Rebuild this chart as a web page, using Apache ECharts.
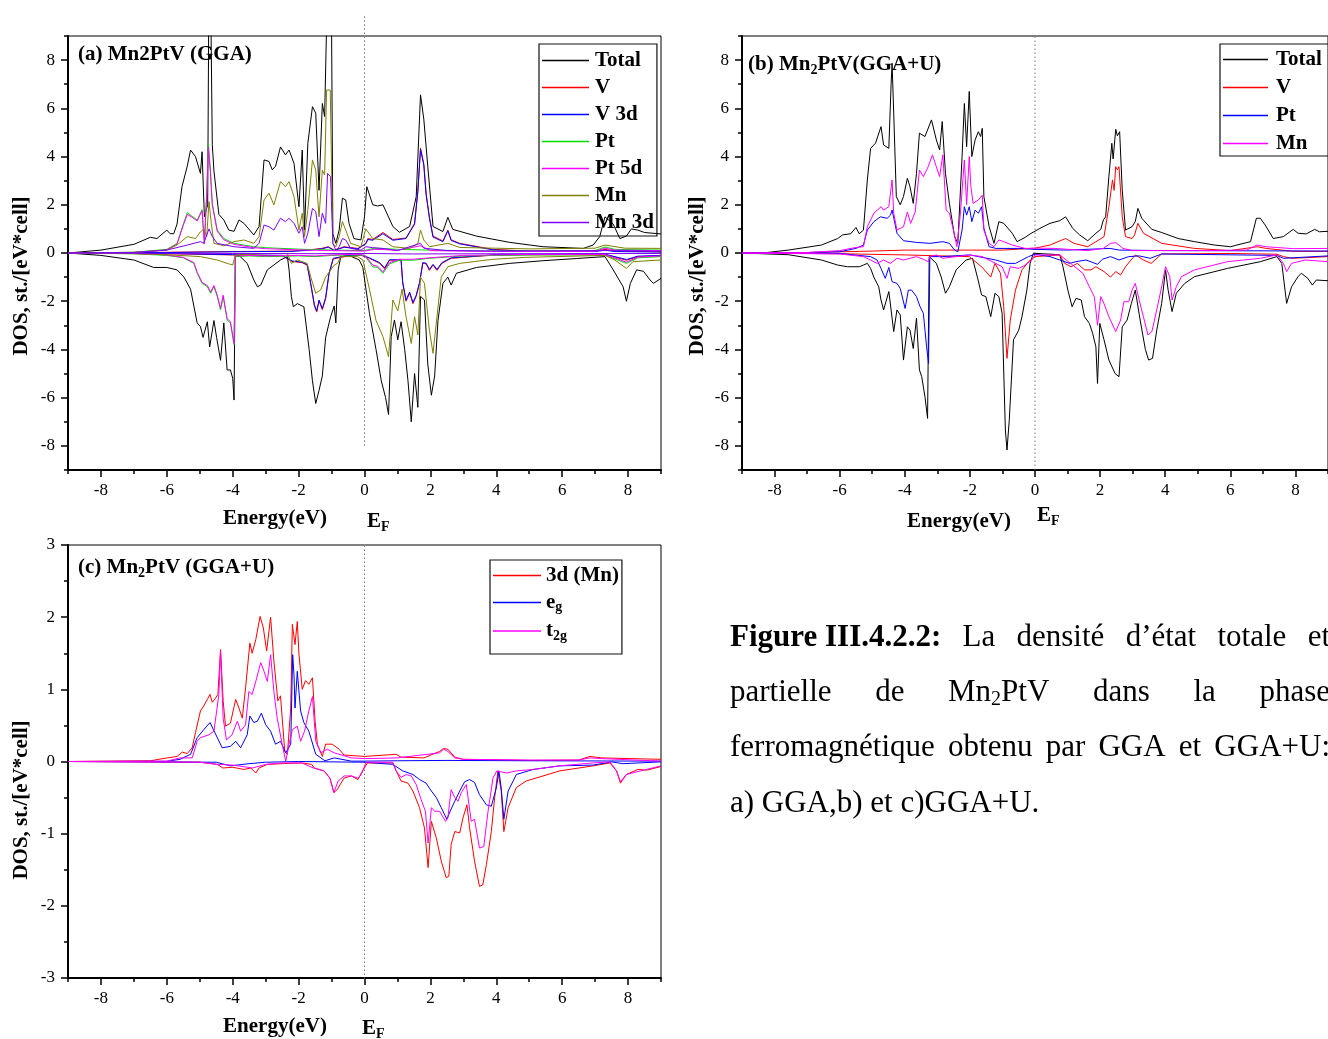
<!DOCTYPE html>
<html><head><meta charset="utf-8">
<script src="https://cdn.jsdelivr.net/npm/echarts@6/dist/echarts.min.js"></script>
<style>html,body{margin:0;padding:0;background:#fff}#c{width:1328px;height:1039px}</style>
</head><body><div id="c"></div><script>
// ---------------- DATA (energy in eV, DOS in st./[eV*cell]) ----------------
const xTickLabels = [-8,-6,-4,-2,0,2,4,6,8];
const yTickLabelsAB = [-8,-6,-4,-2,0,2,4,6,8];
const legendA = ['Total','V','V 3d','Pt','Pt 5d','Mn','Mn 3d'];
const legendB = ['Total ','V ','Pt ','Mn '];
const legendC = ['3d (Mn)','e_g','t_2g'];
const EF = [[0,-9],[0,9]];
const EFa = [[0,-8],[0,9.9]];

// Panel (a) GGA
const aTotalUp = [[-9,0],[-8,0.12],[-7,0.36],[-6.5,0.65],[-6.3,0.6],[-6.0,0.95],[-5.9,0.8],[-5.79,0.8],[-5.69,1.2],[-5.54,2.75],[-5.38,3.6],[-5.28,4.27],[-5.13,4.0],[-4.98,3.3],[-4.93,4.2],[-4.86,1.5],[-4.76,2.0],[-4.73,9.5],[-4.66,9.5],[-4.62,4.5],[-4.57,3.4],[-4.42,1.6],[-4.27,1.37],[-4.12,0.95],[-3.96,0.9],[-3.81,1.37],[-3.66,1.23],[-3.36,0.75],[-3.2,1.1],[-3.05,3.86],[-2.9,3.8],[-2.8,3.45],[-2.7,3.6],[-2.55,4.4],[-2.4,4.07],[-2.29,4.27],[-2.14,3.72],[-1.99,1.92],[-1.89,4.27],[-1.82,0.95],[-1.72,4.55],[-1.58,6.07],[-1.48,5.8],[-1.38,2.6],[-1.28,6.2],[-1.21,5.66],[-1.15,9.5],[-1.0,9.5],[-0.96,0.8],[-0.87,0.4],[-0.77,0.95],[-0.67,2.27],[-0.57,2.2],[-0.47,1.23],[-0.32,0.6],[-0.11,0.54],[0.0,1.5],[0.07,2.75],[0.25,2.0],[0.4,1.95],[0.56,2.0],[0.86,1.1],[1.06,0.86],[1.37,1.1],[1.57,2.34],[1.7,6.56],[1.8,5.55],[1.92,3.6],[2.08,1.1],[2.38,0.89],[2.53,1.48],[2.68,0.98],[3.4,0.7],[4.41,0.44],[5.42,0.26],[6.64,0.19],[6.94,0.33],[7.14,0.68],[7.3,1.5],[7.55,1.2],[7.75,0.6],[7.95,0.7],[8.1,1.0],[8.3,0.95],[8.5,0.85],[9,0.79]];
const aTotalDn = [[-9,0],[-8,-0.1],[-7,-0.29],[-6.4,-0.6],[-6.0,-0.6],[-5.69,-0.7],[-5.48,-1.0],[-5.28,-1.5],[-5.18,-2.2],[-5.08,-2.9],[-4.98,-3.05],[-4.9,-3.5],[-4.77,-2.85],[-4.7,-3.9],[-4.57,-2.8],[-4.49,-3.5],[-4.37,-4.45],[-4.27,-2.9],[-4.17,-4.85],[-4.07,-4.85],[-4.0,-5.2],[-3.96,-6.1],[-3.92,-0.15],[-3.81,-0.1],[-3.56,-0.43],[-3.36,-1.12],[-3.25,-1.4],[-3.15,-1.33],[-2.95,-0.7],[-2.55,-0.29],[-2.34,-0.15],[-2.29,-0.7],[-2.22,-1.8],[-2.16,-2.23],[-2.04,-2.1],[-1.84,-2.23],[-1.68,-4.0],[-1.58,-5.3],[-1.48,-6.24],[-1.38,-5.7],[-1.28,-5.1],[-1.18,-3.5],[-1.03,-2.65],[-0.92,-2.2],[-0.87,-2.9],[-0.8,-0.7],[-0.72,-0.15],[-0.47,-0.1],[-0.16,-0.29],[-0.05,-0.6],[0.15,-2.5],[0.35,-4.0],[0.51,-5.3],[0.64,-6.0],[0.73,-6.7],[0.81,-3.47],[0.91,-2.78],[1.01,-3.6],[1.11,-2.85],[1.22,-4.0],[1.32,-5.3],[1.42,-7.0],[1.52,-5.0],[1.62,-6.4],[1.7,-1.8],[1.82,-1.95],[1.92,-4.6],[2.03,-5.9],[2.13,-5.1],[2.23,-2.8],[2.38,-1.26],[2.53,-1.0],[2.63,-1.33],[2.79,-0.84],[3.4,-0.6],[4.41,-0.43],[5.42,-0.32],[6.43,-0.23],[7.3,-0.15],[7.55,-0.7],[7.85,-1.4],[7.95,-2.0],[8.07,-1.26],[8.26,-0.7],[8.47,-0.76],[8.67,-1.12],[8.77,-1.26],[9.0,-1.05]];
const aVUp = [[-9,0],[-6,0.03],[-4,0.06],[-2.2,0.08],[-1.74,0.12],[-1.3,0.19],[-1.1,0.26],[-0.92,0.12],[-0.62,0.26],[-0.2,0.19],[0.04,0.4],[0.1,0.6],[0.25,0.56],[0.56,0.85],[0.86,0.56],[1.26,0.62],[1.52,1.23],[1.62,2.6],[1.7,4.35],[1.8,3.7],[1.87,2.48],[1.97,1.5],[2.08,0.7],[2.38,0.5],[2.53,0.95],[2.63,0.55],[2.89,0.4],[3.9,0.15],[5,0.08],[7.0,0.08],[7.3,0.15],[7.6,0.08],[9,0.05]];
const aVDn = [[-9,0],[-6,-0.03],[-4,-0.08],[-2.5,-0.12],[-2.2,-0.35],[-1.9,-0.4],[-1.74,-0.5],[-1.62,-1.4],[-1.52,-2.2],[-1.45,-2.45],[-1.38,-2.0],[-1.28,-2.35],[-1.18,-1.9],[-1.08,-0.9],[-0.95,-0.25],[-0.5,-0.12],[-0.1,-0.1],[0.15,-0.22],[0.46,-0.43],[0.61,-0.66],[0.76,-0.3],[0.96,-0.3],[1.11,-0.3],[1.16,-1.26],[1.26,-2.0],[1.37,-1.67],[1.47,-2.1],[1.57,-1.8],[1.67,-1.26],[1.77,-0.43],[1.87,-0.45],[1.97,-0.72],[2.08,-0.5],[2.2,-0.72],[2.35,-0.43],[2.63,-0.22],[4,-0.08],[7.3,-0.06],[7.95,-0.3],[8.3,-0.15],[9,-0.12]];
const aV3dUp = [[-9,0],[-6,0.02],[-4,0.05],[-2.2,0.07],[-1.74,0.11],[-1.3,0.17],[-1.1,0.24],[-0.92,0.1],[-0.62,0.24],[-0.2,0.17],[0.04,0.38],[0.1,0.56],[0.25,0.53],[0.56,0.8],[0.86,0.53],[1.26,0.6],[1.52,1.2],[1.62,2.55],[1.7,4.3],[1.8,3.65],[1.87,2.42],[1.97,1.45],[2.08,0.66],[2.38,0.47],[2.53,0.92],[2.63,0.52],[2.89,0.38],[3.9,0.13],[5,0.07],[7.0,0.06],[7.3,0.12],[7.6,0.06],[9,0.04]];
const aV3dDn = [[-9,0],[-6,-0.02],[-4,-0.07],[-2.5,-0.1],[-2.2,-0.33],[-1.9,-0.38],[-1.74,-0.48],[-1.62,-1.35],[-1.52,-2.15],[-1.45,-2.4],[-1.38,-1.95],[-1.28,-2.3],[-1.18,-1.85],[-1.08,-0.86],[-0.95,-0.22],[-0.5,-0.1],[-0.1,-0.08],[0.15,-0.2],[0.46,-0.4],[0.61,-0.62],[0.76,-0.28],[0.96,-0.28],[1.11,-0.28],[1.16,-1.2],[1.26,-1.95],[1.37,-1.62],[1.47,-2.05],[1.57,-1.75],[1.67,-1.22],[1.77,-0.4],[1.87,-0.42],[1.97,-0.68],[2.08,-0.47],[2.2,-0.68],[2.35,-0.4],[2.63,-0.2],[4,-0.07],[7.3,-0.05],[7.95,-0.27],[8.3,-0.13],[9,-0.1]];
const aPtUp = [[-9,0],[-7,0.03],[-6,0.15],[-5.69,0.4],[-5.5,1.2],[-5.38,1.67],[-5.23,1.52],[-5.08,1.37],[-4.93,1.8],[-4.86,0.4],[-4.79,2.5],[-4.74,4.5],[-4.68,3.5],[-4.62,2.05],[-4.47,0.95],[-4.27,0.6],[-3.96,0.4],[-3.36,0.26],[-3.0,0.22],[-2.0,0.16],[-1.0,0.12],[0,0.1],[0.3,0.2],[0.6,0.18],[1.0,0.15],[2.0,0.12],[4,0.08],[7.0,0.1],[7.3,0.25],[7.6,0.15],[9,0.12]];
const aPtDn = [[-9,0],[-7,-0.03],[-6,-0.1],[-5.5,-0.2],[-5.18,-0.43],[-5.08,-0.84],[-4.93,-1.26],[-4.77,-1.4],[-4.67,-1.67],[-4.57,-1.4],[-4.47,-1.8],[-4.37,-2.36],[-4.29,-1.8],[-4.17,-2.78],[-4.07,-2.9],[-3.96,-3.8],[-3.92,-0.15],[-3.5,-0.12],[-3.0,-0.15],[-2.0,-0.12],[-1.5,-0.15],[-1.0,-0.1],[-0.5,-0.08],[0,-0.1],[0.25,-0.57],[0.4,-0.6],[0.56,-0.84],[0.76,-0.45],[1.06,-0.3],[1.47,-0.3],[1.97,-0.22],[3,-0.12],[5,-0.08],[7.3,-0.08],[7.95,-0.43],[8.3,-0.2],[9,-0.15]];
const aPt5dUp = [[-9,0],[-7,0.02],[-6,0.13],[-5.69,0.37],[-5.5,1.15],[-5.38,1.6],[-5.23,1.48],[-5.08,1.33],[-4.93,1.75],[-4.86,0.38],[-4.79,2.4],[-4.74,4.4],[-4.68,3.4],[-4.62,2.0],[-4.47,0.9],[-4.27,0.55],[-3.96,0.36],[-3.36,0.22],[-3.0,0.18],[-2.0,0.13],[-1.0,0.1],[0,0.08],[0.3,0.15],[0.6,0.14],[1.0,0.11],[1.7,0.3],[2.0,0.1],[4,0.06],[7.0,0.07],[7.3,0.2],[7.6,0.12],[9,0.1]];
const aPt5dDn = [[-9,0],[-7,-0.02],[-6,-0.08],[-5.5,-0.18],[-5.18,-0.4],[-5.08,-0.8],[-4.93,-1.22],[-4.77,-1.35],[-4.67,-1.62],[-4.57,-1.35],[-4.47,-1.75],[-4.37,-2.3],[-4.29,-1.75],[-4.17,-2.72],[-4.07,-2.85],[-3.96,-3.75],[-3.92,-0.12],[-3.5,-0.1],[-3.0,-0.12],[-2.0,-0.1],[-1.5,-0.12],[-1.0,-0.08],[-0.5,-0.06],[0,-0.08],[0.25,-0.5],[0.4,-0.55],[0.56,-0.78],[0.76,-0.4],[1.06,-0.26],[1.47,-0.26],[1.97,-0.2],[3,-0.1],[5,-0.06],[7.3,-0.06],[7.95,-0.38],[8.3,-0.17],[9,-0.12]];
const aMnUp = [[-9,0],[-7,0.03],[-6.0,0.12],[-5.69,0.33],[-5.38,0.68],[-5.13,0.6],[-4.98,0.88],[-4.88,1.0],[-4.79,0.68],[-4.72,2.13],[-4.65,1.23],[-4.57,0.4],[-4.27,0.3],[-3.96,0.47],[-3.66,0.54],[-3.36,0.4],[-3.2,0.68],[-3.05,2.2],[-2.9,2.48],[-2.75,2.0],[-2.55,2.96],[-2.4,2.75],[-2.29,2.96],[-2.14,2.34],[-1.99,0.95],[-1.89,1.65],[-1.82,0.68],[-1.72,1.78],[-1.58,3.86],[-1.48,3.44],[-1.38,1.5],[-1.28,3.44],[-1.21,3.24],[-1.15,6.76],[-1.04,6.76],[-0.96,0.4],[-0.87,0.26],[-0.77,0.68],[-0.67,1.3],[-0.57,0.95],[-0.42,0.4],[-0.11,0.26],[0.04,1.0],[0.07,1.0],[0.25,0.6],[0.56,0.54],[0.86,0.26],[1.37,0.19],[1.62,0.4],[1.7,0.95],[1.8,0.54],[1.97,0.26],[2.53,0.4],[2.89,0.23],[5,0.17],[7.0,0.2],[7.3,0.33],[7.9,0.2],[9,0.19]];
const aMnDn = [[-9,0],[-7,-0.03],[-6,-0.07],[-4.98,-0.15],[-4.47,-0.29],[-4.17,-0.43],[-4.0,-0.5],[-3.92,-0.08],[-3,-0.03],[-2.34,-0.02],[-2.22,-0.43],[-2.04,-0.29],[-1.74,-0.43],[-1.63,-1.0],[-1.48,-1.67],[-1.33,-1.53],[-1.18,-1.0],[-0.92,-0.5],[-0.82,-0.43],[-0.72,-0.15],[-0.21,-0.15],[-0.05,-0.29],[0.15,-1.5],[0.35,-2.8],[0.56,-3.47],[0.73,-4.3],[0.86,-1.95],[1.01,-2.4],[1.14,-1.5],[1.26,-2.64],[1.42,-3.75],[1.52,-2.64],[1.62,-3.4],[1.7,-1.0],[1.82,-1.26],[1.97,-3.2],[2.08,-4.16],[2.2,-2.64],[2.33,-1.0],[2.53,-0.57],[2.89,-0.43],[3.9,-0.26],[4.9,-0.18],[7.3,-0.1],[7.6,-0.29],[7.95,-0.64],[8.15,-0.36],[9,-0.29]];
const aMn3dUp = [[-9,0],[-7,0.02],[-6,0.12],[-5.38,0.33],[-4.98,0.47],[-4.88,0.4],[-4.72,1.0],[-4.62,0.68],[-4.47,0.4],[-3.96,0.26],[-3.36,0.19],[-3.2,0.4],[-3.05,1.16],[-2.9,1.09],[-2.75,0.95],[-2.55,1.44],[-2.4,1.3],[-2.29,1.44],[-2.14,1.23],[-1.99,0.82],[-1.89,1.09],[-1.82,0.4],[-1.72,0.82],[-1.58,1.85],[-1.48,1.72],[-1.38,0.68],[-1.28,1.65],[-1.18,1.23],[-1.12,3.3],[-1.03,3.16],[-0.96,0.4],[-0.87,0.12],[-0.77,0.26],[-0.67,0.6],[-0.57,0.54],[-0.42,0.19],[-0.11,0.12],[0.04,0.26],[0.25,0.22],[0.56,0.19],[1.0,0.1],[1.7,0.4],[1.8,0.2],[2.5,0.1],[4,0.08],[7.3,0.1],[9,0.08]];
const aMn3dDn = [[-9,0],[-4,-0.02],[-1.5,-0.03],[0,-0.02],[1.5,-0.04],[4,-0.03],[9,-0.02]];

// Panel (b) GGA+U
const bTotalUp = [[-9,0],[-8.3,0.01],[-7.58,0.12],[-6.56,0.33],[-6.06,0.6],[-5.91,0.75],[-5.66,0.8],[-5.5,1.06],[-5.4,0.8],[-5.27,0.95],[-5.15,3.03],[-5.05,4.34],[-4.9,4.55],[-4.73,5.24],[-4.65,4.48],[-4.49,4.34],[-4.42,7.0],[-4.39,7.87],[-4.34,5.8],[-4.26,2.34],[-4.14,2.0],[-4.04,2.34],[-3.92,3.1],[-3.84,2.75],[-3.74,2.06],[-3.64,3.3],[-3.55,4.97],[-3.38,4.83],[-3.18,5.52],[-3.03,4.69],[-2.93,4.27],[-2.85,5.45],[-2.75,3.3],[-2.63,2.06],[-2.47,0.68],[-2.37,0.4],[-2.24,4.0],[-2.17,6.2],[-2.1,4.41],[-2.02,6.7],[-1.94,4.0],[-1.84,4.69],[-1.74,5.03],[-1.67,4.83],[-1.62,5.17],[-1.57,2.34],[-1.41,1.1],[-1.26,0.4],[-1.11,1.3],[-0.96,1.23],[-0.7,0.82],[-0.55,0.47],[-0.3,0.65],[-0.15,0.79],[0.15,1.02],[0.46,1.23],[0.76,1.34],[0.94,1.5],[1.16,1.02],[1.37,0.75],[1.62,0.51],[1.87,0.82],[2.02,0.98],[2.1,1.37],[2.17,1.5],[2.27,3.17],[2.36,4.55],[2.4,3.9],[2.48,5.13],[2.53,4.86],[2.6,5.03],[2.68,2.61],[2.78,0.95],[2.98,1.09],[3.08,1.3],[3.16,1.85],[3.28,1.44],[3.59,0.98],[3.89,0.85],[4.4,0.6],[4.9,0.47],[5.51,0.33],[6.01,0.26],[6.2,0.33],[6.62,0.47],[6.8,1.44],[6.92,1.44],[7.07,1.16],[7.32,0.6],[7.63,0.68],[7.93,0.98],[8.08,0.82],[8.33,0.79],[8.59,0.98],[8.74,0.88],[9,0.9]];
const bTotalDn = [[-9,0],[-7.58,-0.07],[-6.56,-0.29],[-6.06,-0.5],[-5.76,-0.57],[-5.4,-0.57],[-5.27,-0.5],[-5.15,-0.43],[-5.05,-0.64],[-4.95,-1.0],[-4.8,-1.4],[-4.73,-1.95],[-4.65,-2.36],[-4.49,-1.6],[-4.42,-2.36],[-4.34,-3.26],[-4.24,-2.36],[-4.14,-2.57],[-4.04,-4.44],[-3.92,-3.06],[-3.84,-3.2],[-3.74,-3.96],[-3.64,-2.7],[-3.55,-4.85],[-3.48,-5.13],[-3.38,-5.96],[-3.3,-6.86],[-3.25,-0.15],[-3.03,-0.43],[-2.88,-1.0],[-2.75,-1.67],[-2.63,-1.4],[-2.42,-0.7],[-2.12,-0.29],[-1.92,-0.22],[-1.77,-1.0],[-1.64,-1.74],[-1.51,-1.81],[-1.36,-2.64],[-1.23,-1.67],[-1.11,-1.81],[-1.01,-2.5],[-0.91,-7.34],[-0.86,-8.17],[-0.79,-6.93],[-0.66,-3.6],[-0.5,-3.2],[-0.4,-2.64],[-0.25,-1.54],[-0.15,-0.43],[-0.05,-0.01],[0.76,-0.07],[0.86,-0.57],[1.01,-1.54],[1.14,-2.23],[1.26,-1.88],[1.42,-1.95],[1.52,-2.64],[1.67,-2.92],[1.77,-3.33],[1.87,-3.89],[1.92,-5.41],[1.99,-2.92],[2.12,-3.6],[2.27,-4.44],[2.46,-5.0],[2.58,-5.13],[2.68,-3.06],[2.83,-2.78],[2.96,-2.09],[3.08,-1.54],[3.23,-2.78],[3.39,-4.0],[3.49,-4.44],[3.61,-4.37],[3.74,-3.2],[3.89,-2.09],[4.01,-0.7],[4.09,-1.54],[4.21,-2.43],[4.34,-1.67],[4.6,-1.26],[4.9,-0.98],[5.91,-0.64],[6.92,-0.36],[7.43,-0.15],[7.58,-0.43],[7.73,-2.09],[7.88,-1.4],[8.08,-0.98],[8.18,-0.84],[8.38,-1.05],[8.52,-1.33],[8.64,-1.12],[9,-1.15]];
const bVUp = [[-9,0],[-7,0.02],[-5,0.08],[-4,0.12],[-2,0.12],[-1,0.12],[0,0.2],[0.46,0.33],[0.94,0.6],[1.2,0.4],[1.62,0.26],[1.97,0.55],[2.12,0.68],[2.27,1.92],[2.38,3.03],[2.43,2.6],[2.48,3.58],[2.53,3.45],[2.58,3.58],[2.68,1.5],[2.78,0.68],[2.98,0.6],[3.06,0.75],[3.16,1.23],[3.33,0.82],[3.89,0.4],[4.9,0.19],[6,0.1],[6.82,0.26],[7.1,0.19],[7.93,0.07],[9,0.07]];
const bVDn = [[-9,0],[-6,-0.03],[-4,-0.08],[-2.02,-0.15],[-1.77,-0.43],[-1.64,-0.57],[-1.36,-1.0],[-1.23,-0.43],[-1.06,-0.84],[-0.96,-2.23],[-0.86,-4.37],[-0.76,-2.78],[-0.6,-1.54],[-0.4,-0.7],[-0.2,-0.36],[0,-0.15],[0.76,-0.08],[0.91,-0.43],[1.11,-0.57],[1.3,-0.43],[1.52,-0.7],[1.72,-0.7],[1.87,-0.57],[2.12,-0.77],[2.32,-1.0],[2.48,-0.77],[2.63,-0.91],[2.78,-0.57],[3.08,-0.08],[3.33,-0.29],[3.57,-0.43],[3.89,-0.04],[6,-0.02],[7.43,-0.05],[7.63,-0.15],[7.9,-0.22],[9,-0.15]];
const bPtUp = [[-9,0],[-7,0.02],[-6,0.05],[-5.5,0.19],[-5.27,0.33],[-5.15,0.95],[-4.95,1.3],[-4.75,1.5],[-4.54,1.44],[-4.44,1.57],[-4.39,1.78],[-4.24,0.82],[-4.04,0.51],[-3.64,0.44],[-3.23,0.4],[-2.83,0.47],[-2.63,0.4],[-2.47,0.12],[-2.37,0.05],[-2.24,0.95],[-2.17,1.92],[-2.1,1.57],[-2.02,1.92],[-1.94,1.3],[-1.84,1.78],[-1.74,1.65],[-1.64,1.92],[-1.57,1.02],[-1.41,0.26],[-1.2,0.19],[-0.5,0.19],[0,0.15],[1,0.12],[2.3,0.19],[2.6,0.12],[4,0.1],[7,0.09],[9,0.08]];
const bPtDn = [[-9,0],[-6,-0.02],[-5.05,-0.15],[-4.85,-0.29],[-4.73,-0.64],[-4.6,-1.05],[-4.49,-0.6],[-4.39,-1.19],[-4.24,-1.26],[-4.14,-1.47],[-3.99,-2.3],[-3.89,-1.54],[-3.79,-1.54],[-3.64,-1.81],[-3.53,-2.23],[-3.43,-2.5],[-3.33,-3.89],[-3.27,-4.58],[-3.23,-0.15],[-2.83,-0.15],[-2.0,-0.08],[-1.21,-0.29],[-0.86,-0.43],[-0.6,-0.43],[-0.2,-0.15],[0,-0.05],[0.46,-0.15],[1.06,-0.43],[1.26,-0.36],[1.57,-0.29],[1.92,-0.47],[2.07,-0.26],[2.32,-0.15],[2.58,-0.29],[2.88,-0.15],[3.2,-0.12],[3.54,-0.22],[3.89,-0.04],[7.43,-0.1],[7.63,-0.22],[9,-0.12]];
const bMnUp = [[-9,0],[-7,0.02],[-6,0.1],[-5.5,0.23],[-5.27,0.26],[-5.15,1.09],[-4.95,1.65],[-4.73,1.92],[-4.65,1.78],[-4.49,1.92],[-4.39,3.03],[-4.34,1.65],[-4.24,0.95],[-4.04,1.09],[-3.92,1.7],[-3.82,1.23],[-3.68,1.7],[-3.55,3.44],[-3.43,3.17],[-3.28,3.58],[-3.15,4.07],[-3.03,3.58],[-2.93,3.17],[-2.83,4.07],[-2.73,1.78],[-2.63,1.65],[-2.47,0.75],[-2.4,0.26],[-2.3,1.5],[-2.17,3.86],[-2.1,2.0],[-2.02,4.0],[-1.97,2.75],[-1.9,2.06],[-1.74,2.2],[-1.62,2.4],[-1.57,0.95],[-1.41,0.4],[-1.26,0.26],[-1.11,0.54],[-0.96,0.47],[-0.7,0.33],[-0.3,0.19],[0,0.2],[0.6,0.19],[1.62,0.1],[2.1,0.19],[2.32,0.4],[2.48,0.43],[2.58,0.33],[2.7,0.19],[3,0.1],[5,0.1],[6.5,0.12],[6.82,0.33],[7.1,0.26],[7.93,0.18],[9,0.19]];
const bMnDn = [[-9,0],[-6,-0.04],[-5.27,-0.15],[-5.05,-0.29],[-4.85,-0.43],[-4.65,-0.29],[-4.44,-0.43],[-4.24,-0.22],[-4.04,-0.29],[-3.64,-0.15],[-3.43,-0.26],[-3.28,-0.36],[-3.23,-0.15],[-3.03,-0.08],[-2.83,-0.22],[-2.02,-0.08],[-1.62,-0.15],[-1.21,-0.43],[-1.01,-0.57],[-0.86,-1.05],[-0.76,-0.57],[-0.5,-0.64],[-0.3,-0.5],[-0.1,-0.29],[0,-0.08],[0.76,-0.08],[0.96,-0.29],[1.16,-0.5],[1.47,-0.84],[1.67,-1.4],[1.82,-1.81],[1.87,-2.36],[1.92,-3.0],[2.02,-1.81],[2.12,-2.1],[2.27,-2.64],[2.48,-3.26],[2.63,-2.78],[2.73,-2.02],[2.88,-2.02],[2.98,-1.54],[3.08,-1.26],[3.2,-1.95],[3.33,-2.64],[3.47,-3.4],[3.59,-3.26],[3.74,-2.36],[3.89,-1.4],[4.01,-0.57],[4.14,-0.98],[4.21,-1.95],[4.34,-1.4],[4.5,-0.98],[4.9,-0.7],[5.91,-0.36],[6.92,-0.22],[7.43,-0.08],[7.63,-0.43],[7.73,-0.77],[7.88,-0.43],[8.3,-0.29],[9,-0.36]];

// Panel (c) Mn 3d / eg / t2g (GGA+U)
const c3dUp = [[-9,0],[-6.5,0.01],[-5.99,0.05],[-5.69,0.07],[-5.53,0.13],[-5.38,0.11],[-5.23,0.19],[-5.13,0.4],[-4.98,0.7],[-4.88,0.77],[-4.77,0.86],[-4.69,0.93],[-4.62,0.82],[-4.52,0.88],[-4.45,0.93],[-4.37,1.55],[-4.29,0.84],[-4.22,0.49],[-4.07,0.53],[-3.91,0.86],[-3.81,0.74],[-3.71,0.6],[-3.61,1.02],[-3.48,1.64],[-3.41,1.5],[-3.3,1.69],[-3.17,2.01],[-3.07,1.85],[-2.97,1.53],[-2.85,2.0],[-2.75,1.39],[-2.63,0.84],[-2.55,0.91],[-2.42,0.14],[-2.34,0.1],[-2.24,0.74],[-2.19,1.9],[-2.11,1.62],[-2.04,1.94],[-1.99,1.49],[-1.89,1.0],[-1.79,1.12],[-1.69,1.07],[-1.58,1.16],[-1.5,0.56],[-1.43,0.24],[-1.28,0.07],[-1.18,0.24],[-0.98,0.24],[-0.77,0.17],[-0.62,0.09],[0,0.07],[0.96,0.1],[1.11,0.06],[1.8,0.05],[2.28,0.14],[2.4,0.18],[2.53,0.17],[2.74,0.06],[3,0.03],[5,0.015],[6.5,0.02],[6.84,0.07],[7.2,0.05],[9,0.03]];
const c3dDn = [[-9,0],[-5,-0.01],[-4.47,-0.04],[-4.3,-0.09],[-4.0,-0.08],[-3.66,-0.11],[-3.45,-0.09],[-3.3,-0.16],[-3.2,-0.09],[-2.95,-0.04],[-2.5,-0.03],[-1.9,-0.02],[-1.6,-0.04],[-1.53,-0.09],[-1.23,-0.13],[-1.05,-0.23],[-0.93,-0.43],[-0.83,-0.39],[-0.62,-0.23],[-0.4,-0.2],[-0.2,-0.25],[-0.06,-0.13],[0.09,-0.02],[0.86,-0.02],[0.96,-0.13],[1.11,-0.27],[1.32,-0.3],[1.47,-0.41],[1.67,-0.64],[1.82,-0.92],[1.93,-1.47],[2.03,-0.83],[2.18,-1.06],[2.33,-1.38],[2.48,-1.61],[2.56,-1.59],[2.63,-1.15],[2.74,-0.97],[2.89,-0.99],[2.99,-0.78],[3.11,-0.6],[3.19,-0.92],[3.34,-1.38],[3.49,-1.73],[3.59,-1.71],[3.7,-1.43],[3.85,-0.97],[3.95,-0.5],[4.05,-0.13],[4.15,-0.41],[4.23,-0.97],[4.36,-0.64],[4.61,-0.36],[4.91,-0.27],[5.93,-0.13],[6.94,-0.06],[7.45,-0.02],[7.65,-0.13],[7.77,-0.3],[7.95,-0.18],[8.3,-0.11],[8.56,-0.12],[9,-0.07]];
const cEgUp = [[-9,0],[-6,0.003],[-5.6,0.03],[-5.28,0.1],[-5.08,0.33],[-4.88,0.44],[-4.69,0.54],[-4.52,0.38],[-4.32,0.19],[-4.07,0.21],[-3.91,0.28],[-3.76,0.19],[-3.56,0.37],[-3.48,0.63],[-3.36,0.54],[-3.25,0.56],[-3.13,0.67],[-3.0,0.51],[-2.85,0.42],[-2.7,0.24],[-2.55,0.28],[-2.39,0.12],[-2.24,0.24],[-2.18,1.48],[-2.14,1.2],[-2.11,0.74],[-2.04,1.25],[-1.94,0.7],[-1.84,0.54],[-1.69,0.42],[-1.48,0.1],[-1.2,0.01],[-0.92,0.05],[-0.4,0.005],[0,0.005],[1,0.01],[2.5,0.015],[5,0.01],[9,0.005]];
const cEgDn = [[-9,0],[-4.5,-0.01],[-4.07,-0.06],[-3.5,-0.03],[-3,-0.01],[-2,0.0],[0,-0.01],[0.86,-0.04],[1.16,-0.13],[1.47,-0.18],[1.67,-0.25],[1.87,-0.3],[2.03,-0.41],[2.18,-0.5],[2.33,-0.64],[2.5,-0.8],[2.6,-0.69],[2.74,-0.55],[2.89,-0.41],[3.04,-0.28],[3.19,-0.25],[3.34,-0.29],[3.49,-0.46],[3.7,-0.6],[3.85,-0.62],[4.0,-0.37],[4.08,-0.13],[4.15,-0.37],[4.23,-0.8],[4.36,-0.41],[4.61,-0.18],[5.12,-0.11],[5.93,-0.06],[6.94,-0.05],[7.5,-0.005],[7.85,-0.03],[9,-0.005]];
const cT2gUp = [[-9,0],[-6,0.005],[-5.6,0.05],[-5.23,0.05],[-5.08,0.28],[-4.98,0.33],[-4.72,0.37],[-4.57,0.42],[-4.42,0.93],[-4.37,1.53],[-4.29,0.6],[-4.19,0.3],[-4.02,0.37],[-3.86,0.56],[-3.76,0.42],[-3.61,0.51],[-3.51,0.97],[-3.41,0.93],[-3.3,1.11],[-3.15,1.37],[-3.05,1.25],[-2.95,1.11],[-2.85,1.48],[-2.75,0.97],[-2.65,0.6],[-2.5,0.24],[-2.39,0.005],[-2.29,0.24],[-2.19,0.44],[-2.04,0.49],[-1.94,0.28],[-1.82,0.42],[-1.69,0.7],[-1.58,0.9],[-1.48,0.28],[-1.33,0.12],[-1.13,0.17],[-0.92,0.12],[-0.4,0.05],[0,0.04],[1,0.05],[2.28,0.12],[2.4,0.17],[2.53,0.14],[2.74,0.05],[3,0.03],[5,0.02],[6.5,0.02],[6.84,0.05],[7.2,0.04],[9,0.005]];
const cT2gDn = [[-9,0],[-5,-0.01],[-4.47,-0.04],[-4.0,-0.05],[-3.4,-0.09],[-3.0,-0.04],[-2.5,-0.02],[-1.9,-0.02],[-1.55,-0.09],[-1.23,-0.13],[-1.05,-0.23],[-0.93,-0.43],[-0.8,-0.27],[-0.62,-0.2],[-0.4,-0.2],[-0.2,-0.23],[-0.1,-0.18],[0.05,-0.01],[0.86,-0.01],[0.96,-0.13],[1.11,-0.22],[1.27,-0.18],[1.42,-0.2],[1.57,-0.32],[1.72,-0.53],[1.85,-0.69],[1.93,-1.13],[2.03,-0.64],[2.13,-0.69],[2.28,-0.69],[2.46,-0.83],[2.53,-0.78],[2.63,-0.39],[2.74,-0.5],[2.84,-0.55],[2.94,-0.43],[3.09,-0.32],[3.24,-0.83],[3.34,-0.8],[3.49,-1.2],[3.62,-1.18],[3.75,-0.69],[3.9,-0.23],[4.02,-0.13],[4.31,-0.16],[4.61,-0.13],[5.12,-0.11],[5.93,-0.06],[6.94,-0.02],[7.45,-0.005],[7.65,-0.13],[7.77,-0.28],[7.95,-0.18],[8.56,-0.11],[9,-0.06]];

// ---------------- STYLE / LAYOUT ----------------
const FONT = '"Liberation Serif", "Times New Roman", serif';
const BF = 'bold 21px ' + FONT;
const COL = {total:'#000000', v:'#ff0000', v3d:'#0000ff', pt:'#00dd00', pt5d:'#ff00ff', mn:'#808000', mn3d:'#7f00ff', bpt:'#0000ff', bmn:'#ff00ff', c3d:'#ff0000', eg:'#0000ff', t2g:'#ff00ff'};

const grids = [
  {left:68, top:36, width:593, height:434},
  {left:742, top:36, width:592, height:434},
  {left:68, top:545, width:593, height:433}
].map(r => Object.assign({show:true, borderColor:'#000', borderWidth:1, backgroundColor:'transparent'}, r));

const labelStyle = {fontFamily: FONT, fontSize: 17, color: '#000'};
const tickStyle = {color:'#000', width:1.5};
// Axis spanning [-9,9]: interval ticks fall on odd values (short), minor ticks on even values (long), labels on even values.
function axis9(gi, pos, labels, margin) {
  return {type:'value', gridIndex:gi, min:-9, max:9, interval:2, position:pos,
    axisLine:{show:true, onZero:false, lineStyle:{color:'#000', width:2}},
    axisTick:{show:true, length:4, lineStyle:tickStyle},
    minorTick:{show:true, splitNumber:2, length:7, lineStyle:tickStyle},
    axisLabel:Object.assign({margin:margin, customValues:labels}, labelStyle),
    splitLine:{show:false}, minorSplitLine:{show:false}};
}
function axis3(gi) {
  return {type:'value', gridIndex:gi, min:-3, max:3, interval:1, position:'left',
    axisLine:{show:true, onZero:false, lineStyle:{color:'#000', width:2}},
    axisTick:{show:true, length:7, lineStyle:tickStyle},
    minorTick:{show:true, splitNumber:2, length:4, lineStyle:tickStyle},
    axisLabel:Object.assign({margin:13}, labelStyle),
    splitLine:{show:false}, minorSplitLine:{show:false}};
}
const xAxes = [axis9(0,'bottom',xTickLabels,12), axis9(1,'bottom',xTickLabels,12), axis9(2,'bottom',xTickLabels,12)];
const yAxes = [axis9(0,'left',yTickLabelsAB,13), axis9(1,'left',yTickLabelsAB,13), axis3(2)];

function ln(name, data, color, gi) {
  return {type:'line', name:name, data:data, xAxisIndex:gi, yAxisIndex:gi, showSymbol:false, symbol:'none',
    animation:false, lineStyle:{color:color, width:1}, itemStyle:{color:color}, z:3};
}
function efLine(data, gi, clip) {
  return {type:'line', data:data, xAxisIndex:gi, yAxisIndex:gi, showSymbol:false, symbol:'none', clip:clip,
    animation:false, silent:true, lineStyle:{color:'#777', width:1, type:[1.5,2.5]}, itemStyle:{color:'#777'}, z:2};
}

const series = [
  efLine(EFa, 0, false), efLine(EF, 1, true), efLine(EF, 2, true),
  ln('Total', aTotalUp, COL.total, 0), ln('Total', aTotalDn, COL.total, 0),
  ln('V', aVUp, COL.v, 0), ln('V', aVDn, COL.v, 0),
  ln('V 3d', aV3dUp, COL.v3d, 0), ln('V 3d', aV3dDn, COL.v3d, 0),
  ln('Pt', aPtUp, COL.pt, 0), ln('Pt', aPtDn, COL.pt, 0),
  ln('Pt 5d', aPt5dUp, COL.pt5d, 0), ln('Pt 5d', aPt5dDn, COL.pt5d, 0),
  ln('Mn', aMnUp, COL.mn, 0), ln('Mn', aMnDn, COL.mn, 0),
  ln('Mn 3d', aMn3dUp, COL.mn3d, 0), ln('Mn 3d', aMn3dDn, COL.mn3d, 0),
  ln('Total ', bTotalUp, COL.total, 1), ln('Total ', bTotalDn, COL.total, 1),
  ln('V ', bVUp, COL.v, 1), ln('V ', bVDn, COL.v, 1),
  ln('Pt ', bPtUp, COL.bpt, 1), ln('Pt ', bPtDn, COL.bpt, 1),
  ln('Mn ', bMnUp, COL.bmn, 1), ln('Mn ', bMnDn, COL.bmn, 1),
  ln('3d (Mn)', c3dUp, COL.c3d, 2), ln('3d (Mn)', c3dDn, COL.c3d, 2),
  ln('e_g', cEgUp, COL.eg, 2), ln('e_g', cEgDn, COL.eg, 2),
  ln('t_2g', cT2gUp, COL.t2g, 2), ln('t_2g', cT2gDn, COL.t2g, 2)
];

const legTxt = {fontFamily:FONT, fontWeight:'bold', fontSize:21, color:'#000', lineHeight:20};
const subRich = {
  m:{fontFamily:FONT, fontWeight:'bold', fontSize:21, color:'#000', lineHeight:22},
  s:{fontFamily:FONT, fontWeight:'bold', fontSize:14, color:'#000', padding:[10,0,0,0]}
};
const legends = [
  {data:legendA, orient:'vertical', left:539, top:44, padding:[6,3,3,3], itemGap:6, itemWidth:47, itemHeight:1.3,
   icon:'rect', borderColor:'#111', borderWidth:1.2, selectedMode:false, textStyle:Object.assign({padding:[0,0,0,1]}, legTxt)},
  {data:legendB, orient:'vertical', left:1220, top:44, padding:[5,3,2,3], itemGap:7, itemWidth:45, itemHeight:1.3,
   icon:'rect', borderColor:'#111', borderWidth:1.2, selectedMode:false,
   textStyle:Object.assign({padding:[0,0,0,3]}, legTxt)},
  {data:legendC, orient:'vertical', left:490, top:560, padding:[5,3,11,3], itemGap:6, itemWidth:48, itemHeight:1.3,
   icon:'rect', borderColor:'#111', borderWidth:1.2, selectedMode:false,
   formatter: n => n === 'e_g' ? '{m|e}{s|g}' : (n === 't_2g' ? '{m|t}{s|2g}' : '{m|' + n + '}'),
   textStyle:{rich:subRich}}
];

// ---------------- TEXT (graphics) ----------------
const richTok = (size, weight, pad) => ({font: weight + ' ' + size + 'px ' + FONT, fill:'#000', padding: pad || [0,0,0,0]});
const gfx = [];
function txt(x, y, text, font, align) {
  gfx.push({type:'text', x:x, y:y, silent:true, z:10,
    style:{text:text, font:font, fill:'#000', align:align || 'left', verticalAlign:'middle'}});
}
function rtxt(x, y, text, rich) {
  gfx.push({type:'text', x:x, y:y, silent:true, z:10,
    style:{text:text, rich:rich, fill:'#000', align:'left', verticalAlign:'middle'}});
}
function vtxt(x, y, text) {
  gfx.push({type:'text', x:x, y:y, rotation:Math.PI/2, silent:true, z:10,
    style:{text:text, font:BF, fill:'#000', align:'center', verticalAlign:'middle'}});
}
const titleRich = {m: richTok(21,'bold'), s: richTok(14,'bold',[10,0,0,0])};
txt(78, 55, '(a) Mn2PtV (GGA)', BF);
rtxt(748, 65, '{m|(b) Mn}{s|2}{m|PtV(GGA+U)}', titleRich);
rtxt(78, 568, '{m|(c) Mn}{s|2}{m|PtV (GGA+U)}', titleRich);
vtxt(22, 276, 'DOS, st./[eV*cell]');
vtxt(698, 276, 'DOS, st./[eV*cell]');
vtxt(22, 800, 'DOS, st./[eV*cell]');
txt(275, 519, 'Energy(eV)', BF, 'center');
txt(959, 522, 'Energy(eV)', BF, 'center');
txt(275, 1027, 'Energy(eV)', BF, 'center');
rtxt(367, 522, '{m|E}{s|F}', titleRich);
rtxt(1037, 516, '{m|E}{s|F}', titleRich);
rtxt(362, 1029, '{m|E}{s|F}', titleRich);

// caption (justified lines)
const CAP = 31, CAPL = 730, CAPR = 1330;
const capReg = CAP + 'px ' + FONT, capBold = 'bold ' + CAP + 'px ' + FONT, capSub = '20px ' + FONT;
const cv = document.createElement('canvas').getContext('2d');
function mw(font, s) { cv.font = font; return cv.measureText(s).width; }
const capLines = [
  {y:638, words:[{t:'Figure III.4.2.2:', b:true}, {t:'La'}, {t:'densité'}, {t:'d’état'}, {t:'totale'}, {t:'et'}]},
  {y:693, words:[{t:'partielle'}, {t:'de'}, {mn:true}, {t:'dans'}, {t:'la'}, {t:'phase'}]},
  {y:748, words:[{t:'ferromagnétique'}, {t:'obtenu'}, {t:'par'}, {t:'GGA'}, {t:'et'}, {t:'GGA+U:'}]}
];
const capRich = {m:{font:capReg, fill:'#000'}, s:{font:capSub, fill:'#000', padding:[13,0,0,0]}};
capLines.forEach(L => {
  const ws = L.words.map(w => w.mn ? (mw(capReg,'Mn') + mw(capSub,'2') + mw(capReg,'PtV')) : mw(w.b ? capBold : capReg, w.t));
  const tot = ws.reduce((a,b) => a + b, 0);
  const gap = (CAPR - CAPL - tot) / (ws.length - 1);
  let x = CAPL;
  L.words.forEach((w, i) => {
    if (w.mn) rtxt(x, L.y, '{m|Mn}{s|2}{m|PtV}', capRich);
    else txt(x, L.y, w.t, w.b ? capBold : capReg);
    x += ws[i] + gap;
  });
});
txt(CAPL, 804, 'a) GGA,b) et c)GGA+U.', capReg);

const chart = echarts.init(document.getElementById('c'), null, {renderer:'canvas'});
chart.setOption({
  animation:false,
  backgroundColor:'#fff',
  grid:grids, xAxis:xAxes, yAxis:yAxes, legend:legends, series:series, graphic:gfx
});
</script></body></html>
